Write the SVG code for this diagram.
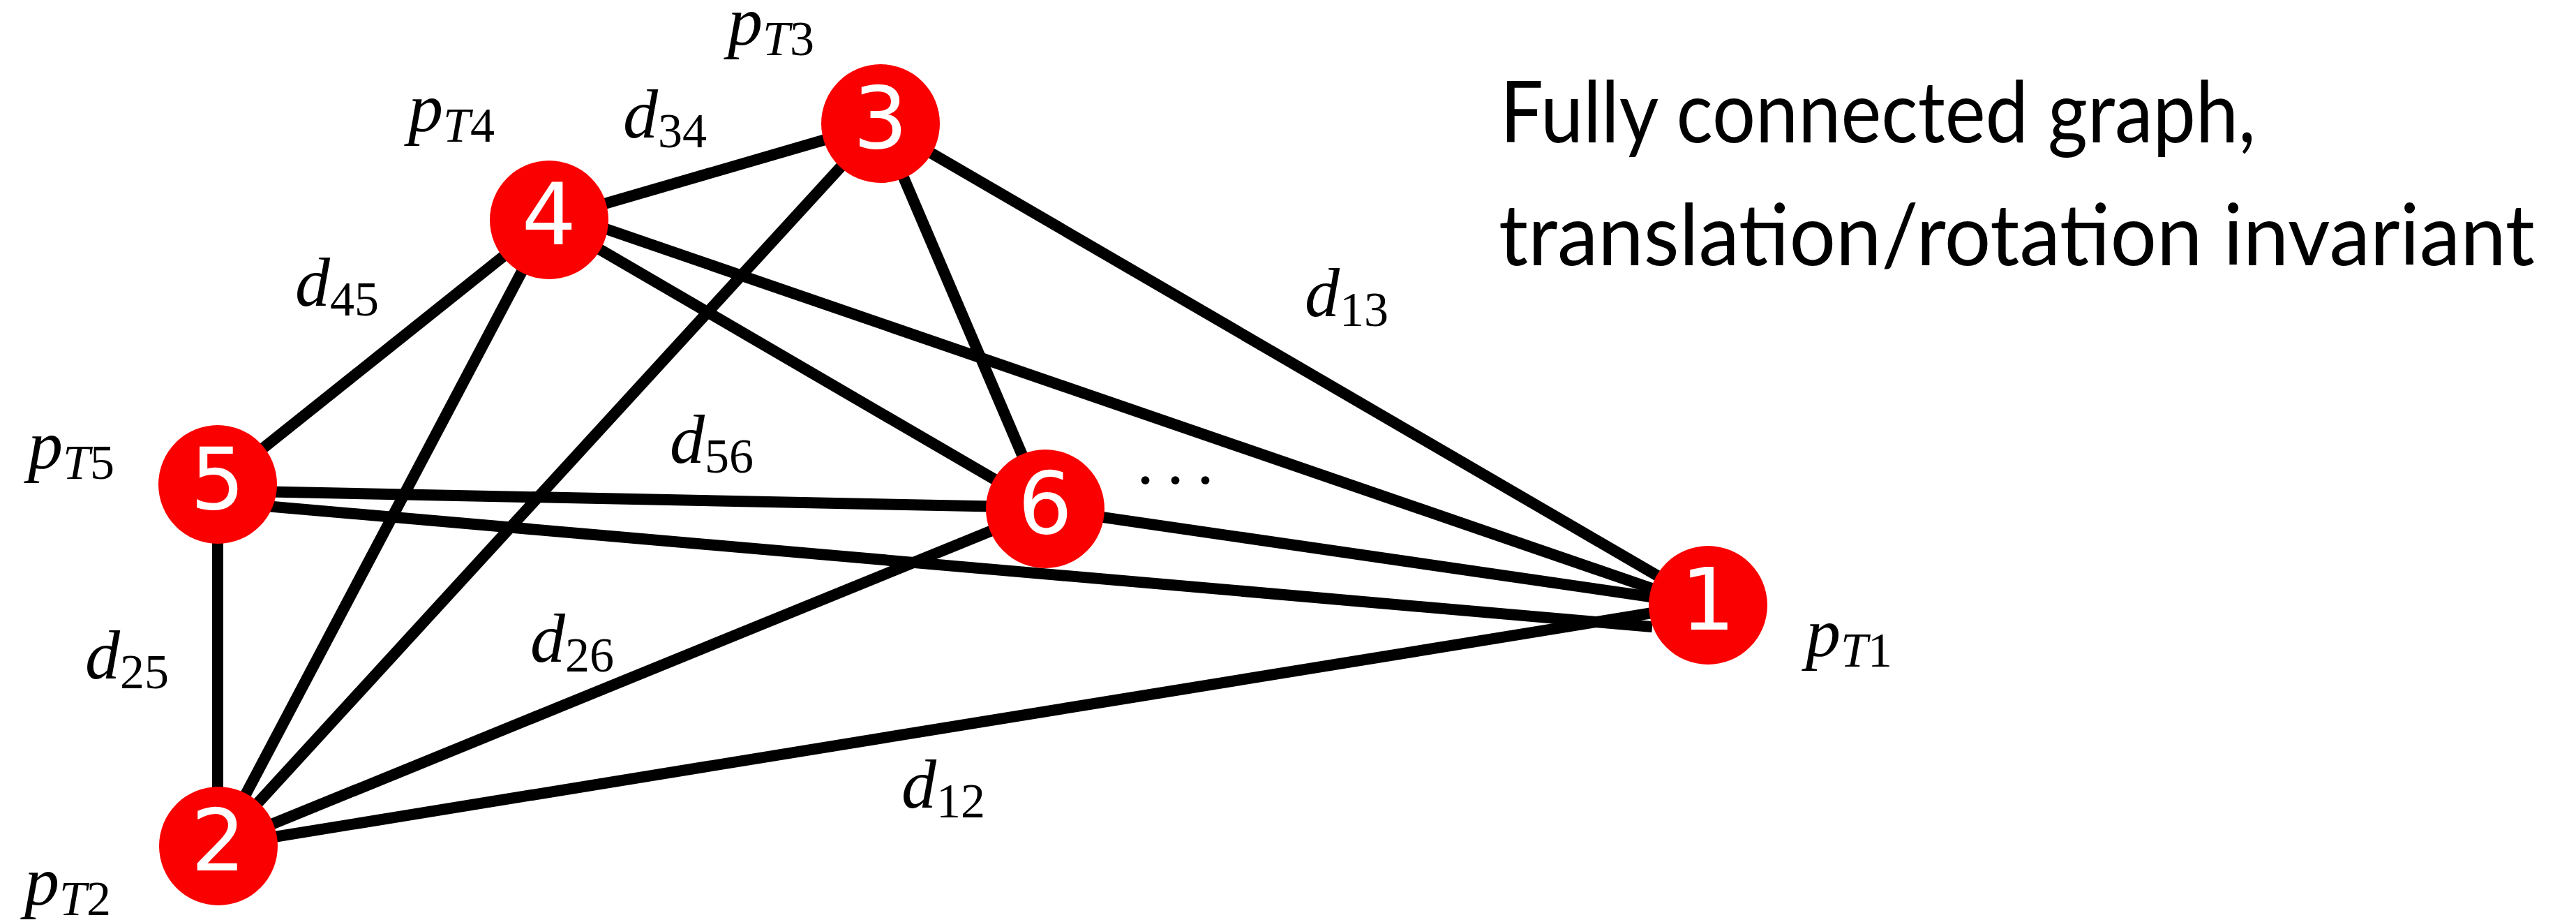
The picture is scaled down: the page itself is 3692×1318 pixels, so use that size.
<svg xmlns="http://www.w3.org/2000/svg" width="3692" height="1318" viewBox="0 0 3692 1318">
  <style>
    .edge { stroke: #000; stroke-width: 16; fill: none; stroke-linecap: butt; }
    .node circle { fill: #fa0000; }
    .node text { fill: #fff; font-family: "DejaVu Sans", Verdana, sans-serif; font-size: 123px; text-anchor: middle; }
    .m { font-family: "Liberation Serif", "DejaVu Serif", serif; font-size: 100px; fill: #000; }
    .i { font-style: italic; }
    .s { font-size: 70px; }
    .title { font-family: Lato, "Noto Sans", sans-serif; font-size: 122px; fill: #000; }
  </style>
  <rect width="3692" height="1318" fill="#fff"/>

  <!-- connectors -->
  <g id="edges">
    <line class="edge" x1="787" y1="315" x2="1262" y2="177"/>
    <line class="edge" x1="1262" y1="177" x2="2448" y2="867"/>
    <line class="edge" x1="1262" y1="177" x2="1498" y2="729"/>
    <line class="edge" x1="1262" y1="177" x2="313" y2="1212"/>
    <line class="edge" x1="787" y1="315" x2="312" y2="694"/>
    <line class="edge" x1="787" y1="315" x2="313" y2="1212"/>
    <line class="edge" x1="787" y1="315" x2="1498" y2="729"/>
    <line class="edge" x1="787" y1="300" x2="2440" y2="868"/>
    <line class="edge" x1="312" y1="703" x2="1498" y2="727"/>
    <line class="edge" x1="312" y1="719" x2="2368" y2="898"/>
    <line class="edge" x1="312" y1="694" x2="312" y2="1212"/>
    <line class="edge" x1="1498" y1="729" x2="2448" y2="867"/>
    <line class="edge" x1="1498" y1="729" x2="313" y2="1212"/>
    <line class="edge" x1="313" y1="1212" x2="2448" y2="865"/>
  </g>

  <!-- nodes -->
  <g id="node1" class="node"><circle cx="2448" cy="867" r="85"/><text x="2448" y="902">1</text></g>
  <g id="node2" class="node"><circle cx="313" cy="1212" r="85"/><text x="313" y="1247">2</text></g>
  <g id="node3" class="node"><circle cx="1262" cy="177" r="85"/><text x="1262" y="212">3</text></g>
  <g id="node4" class="node"><circle cx="787" cy="315" r="85"/><text x="787" y="350">4</text></g>
  <g id="node5" class="node"><circle cx="312" cy="694" r="85"/><text x="312" y="729">5</text></g>
  <g id="node6" class="node"><circle cx="1498" cy="729" r="85"/><text x="1498" y="764">6</text></g>

  <!-- momentum labels -->
  <g id="labels-p">
    <text class="m" x="2588" y="940"><tspan class="i">p</tspan><tspan class="s i" dy="15">T</tspan><tspan class="s">1</tspan></text>
    <text class="m" x="35" y="1296"><tspan class="i">p</tspan><tspan class="s i" dy="15">T</tspan><tspan class="s">2</tspan></text>
    <text class="m" x="1043" y="64"><tspan class="i">p</tspan><tspan class="s i" dy="15">T</tspan><tspan class="s">3</tspan></text>
    <text class="m" x="585" y="188"><tspan class="i">p</tspan><tspan class="s i" dy="15">T</tspan><tspan class="s">4</tspan></text>
    <text class="m" x="40" y="671"><tspan class="i">p</tspan><tspan class="s i" dy="15">T</tspan><tspan class="s">5</tspan></text>
  </g>

  <!-- distance labels -->
  <g id="labels-d">
    <text class="m" x="893" y="197"><tspan class="i">d</tspan><tspan class="s" dy="14">34</tspan></text>
    <text class="m" x="423" y="438"><tspan class="i">d</tspan><tspan class="s" dy="14">45</tspan></text>
    <text class="m" x="1870" y="453"><tspan class="i">d</tspan><tspan class="s" dy="14">13</tspan></text>
    <text class="m" x="960" y="663"><tspan class="i">d</tspan><tspan class="s" dy="14">56</tspan></text>
    <text class="m" x="760" y="948"><tspan class="i">d</tspan><tspan class="s" dy="14">26</tspan></text>
    <text class="m" x="122" y="972"><tspan class="i">d</tspan><tspan class="s" dy="14">25</tspan></text>
    <text class="m" x="1292" y="1157"><tspan class="i">d</tspan><tspan class="s" dy="14">12</tspan></text>
    <text class="m" x="1629" y="693" letter-spacing="18">...</text>
  </g>

  <!-- caption -->
  <g id="caption">
    <text class="title" x="2150" y="204" textLength="1083" lengthAdjust="spacingAndGlyphs">Fully connected graph,</text>
    <text class="title" x="2148" y="380" textLength="1485" lengthAdjust="spacingAndGlyphs">translation/rotation invariant</text>
  </g>
</svg>
